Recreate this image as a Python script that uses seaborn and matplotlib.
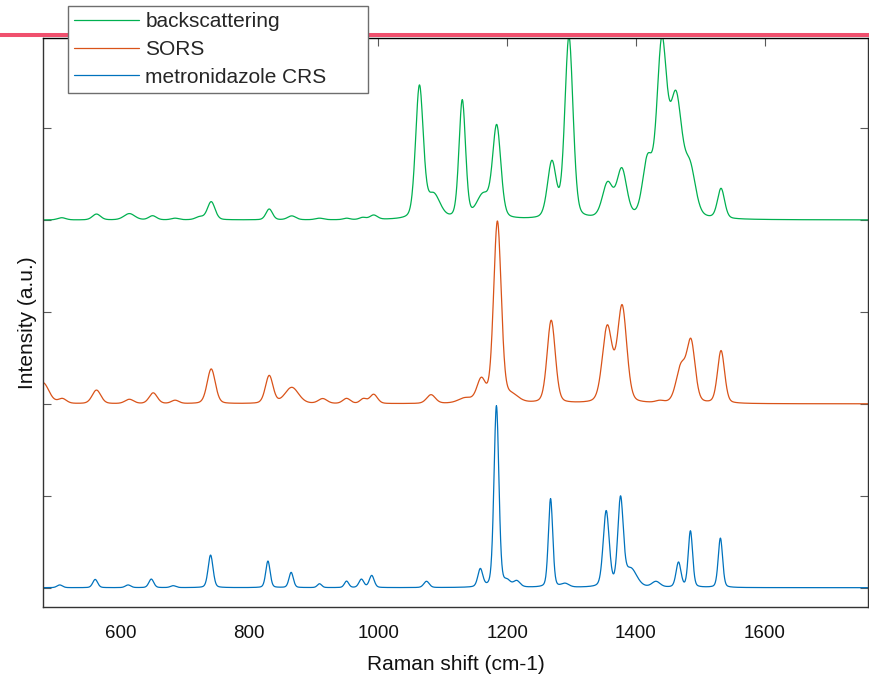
import numpy as np
import pandas as pd
import matplotlib
matplotlib.use("Agg")
import matplotlib.pyplot as plt
from matplotlib.lines import Line2D
import seaborn as sns

# ---- data (peak centre cm-1, height above baseline, FWHM cm-1) ----
series_names = ["backscattering", "SORS", "metronidazole CRS"]
series_offsets = [4.0, 2.0, 0.0]

back_pos = [509, 563, 614, 650, 685, 723, 741, 831, 866, 909, 951, 976, 993,
            1064, 1086, 1130.5, 1163, 1184, 1269.5, 1296, 1356, 1378, 1418, 1440, 1462, 1484, 1532]
back_hgt = [0.025, 0.065, 0.07, 0.047, 0.02, 0.04, 0.2, 0.12, 0.045, 0.02, 0.02, 0.03, 0.055,
            1.47, 0.30, 1.31, 0.30, 1.04, 0.65, 2.0, 0.42, 0.57, 0.72, 2.0, 1.41, 0.65, 0.345]
back_fwhm = [15, 15, 20, 14, 14, 15, 14, 12, 15, 15, 12, 12, 14,
             14, 24, 12, 24, 15, 16, 15, 19, 18, 18, 18, 22, 20, 13]

sors_pos = [480, 510, 563, 614, 651, 685, 741, 831, 866, 914, 951, 977, 993,
            1082, 1135, 1160, 1185, 1207, 1268.5, 1355.5, 1378.5, 1437, 1470, 1485.5, 1532]
sors_hgt = [0.23, 0.06, 0.15, 0.05, 0.12, 0.04, 0.38, 0.31, 0.18, 0.058, 0.06, 0.06, 0.105,
            0.1, 0.07, 0.29, 1.99, 0.13, 0.91, 0.86, 1.08, 0.04, 0.45, 0.71, 0.58]
sors_fwhm = [22, 15, 16, 16, 15, 14, 15, 14, 25, 16, 14, 12, 14,
             16, 25, 16, 14, 25, 15, 18, 17, 15, 18, 15, 13]

crs_pos = [506, 561, 612, 648, 682, 740, 829, 865, 909, 951, 974, 990,
           1075, 1158.5, 1183.5, 1200, 1215, 1267.5, 1290, 1353.8, 1376, 1392, 1431, 1466, 1484.5, 1531]
crs_hgt = [0.03, 0.09, 0.03, 0.094, 0.022, 0.355, 0.29, 0.167, 0.043, 0.072, 0.094, 0.134,
           0.07, 0.21, 1.98, 0.1, 0.08, 0.97, 0.05, 0.84, 1.0, 0.22, 0.07, 0.28, 0.62, 0.54]
crs_fwhm = [10, 9, 10, 9, 10, 9, 8, 8, 8, 8, 9, 9,
            10, 9, 9, 12, 12, 8, 14, 11, 10, 22, 15, 9, 8, 8]

x_ticks = [600, 800, 1000, 1200, 1400, 1600]
colors = ["#00B050", "#D95319", "#0072BD"]


def shape(x, c, w, eta=0.25):
    d = (np.asarray(x, float) - c) / w
    return (1 - eta) * np.exp(-4 * np.log(2) * d ** 2) + eta / (1 + 4 * d ** 2)


def spectrum(grid, pos, hgt, fwhm):
    pos = np.array(pos, float)
    M = np.array([[shape(p, c, w) for c, w in zip(pos, fwhm)] for p in pos])
    amps = np.clip(np.linalg.solve(M, np.array(hgt, float)), 0, None)
    y = np.zeros_like(grid)
    for a, c, w in zip(amps, pos, fwhm):
        y += a * shape(grid, c, w)
    return y


grid = np.arange(480.0, 1761.0, 0.5)
frames = []
for name, off, (p, h, w) in zip(series_names, series_offsets,
                                [(back_pos, back_hgt, back_fwhm),
                                 (sors_pos, sors_hgt, sors_fwhm),
                                 (crs_pos, crs_hgt, crs_fwhm)]):
    frames.append(pd.DataFrame({"shift": grid, "intensity": off + spectrum(grid, p, h, w),
                                "series": name}))
df = pd.concat(frames, ignore_index=True)

sns.set_theme(style="white")
plt.rcParams["font.family"] = ["Liberation Sans", "DejaVu Sans"]

fig = plt.figure(figsize=(8.69, 6.80), dpi=100)
ax = fig.add_axes([43 / 869, 1 - 607 / 680, 825 / 869, (607 - 38) / 680])

sns.lineplot(data=df, x="shift", y="intensity", hue="series", hue_order=series_names,
             palette=colors, estimator=None, sort=False, linewidth=0.9, ax=ax, legend=False)

ax.set_xlim(480, 1760)
ax.set_ylim(-0.21, 5.98)
ax.set_xticks(x_ticks)
ax.set_xticklabels([str(t) for t in x_ticks])
ax.set_yticks([0, 1, 2, 3, 4, 5])
ax.set_yticklabels([])
ax.tick_params(axis="both", direction="in", length=6, width=0.8, color="#5a5a5a",
               top=True, right=True, labelsize=13.5, labelcolor="#111111")
ax.tick_params(axis="x", pad=13)
ax.tick_params(axis="y", left=True, right=True, pad=2)
for s in ax.spines.values():
    s.set_visible(True)
    s.set_color("#333333")
    s.set_linewidth(1.0)
ax.spines["top"].set_color("black")
ax.set_xlabel("Raman shift (cm-1)", fontsize=15, color="#111111", labelpad=9)
ax.set_ylabel("Intensity (a.u.)", fontsize=15, color="#111111")
ax.yaxis.set_label_coords(-0.0075, 0.5)

handles = [Line2D([], [], color=c, lw=0.9) for c in colors]
leg = ax.legend(handles, series_names, loc="upper left",
                bbox_to_anchor=(67.7 / 869, 1 - 94 / 680, (368 - 67.7) / 869, 88 / 680),
                bbox_transform=fig.transFigure, mode="expand", borderaxespad=0,
                fontsize=15, handlelength=3.1, handletextpad=0.32, borderpad=0.3,
                labelspacing=0.42, frameon=True, fancybox=False)
leg.get_frame().set_edgecolor("#6e6e6e")
leg.get_frame().set_linewidth(1.0)
leg.get_frame().set_alpha(1)

fig.add_artist(Line2D([0, 1], [1 - 34.7 / 680] * 2, transform=fig.transFigure,
                      color="#F0506E", lw=2.9, zorder=-1))

fig.savefig("out.png", dpi=100)
